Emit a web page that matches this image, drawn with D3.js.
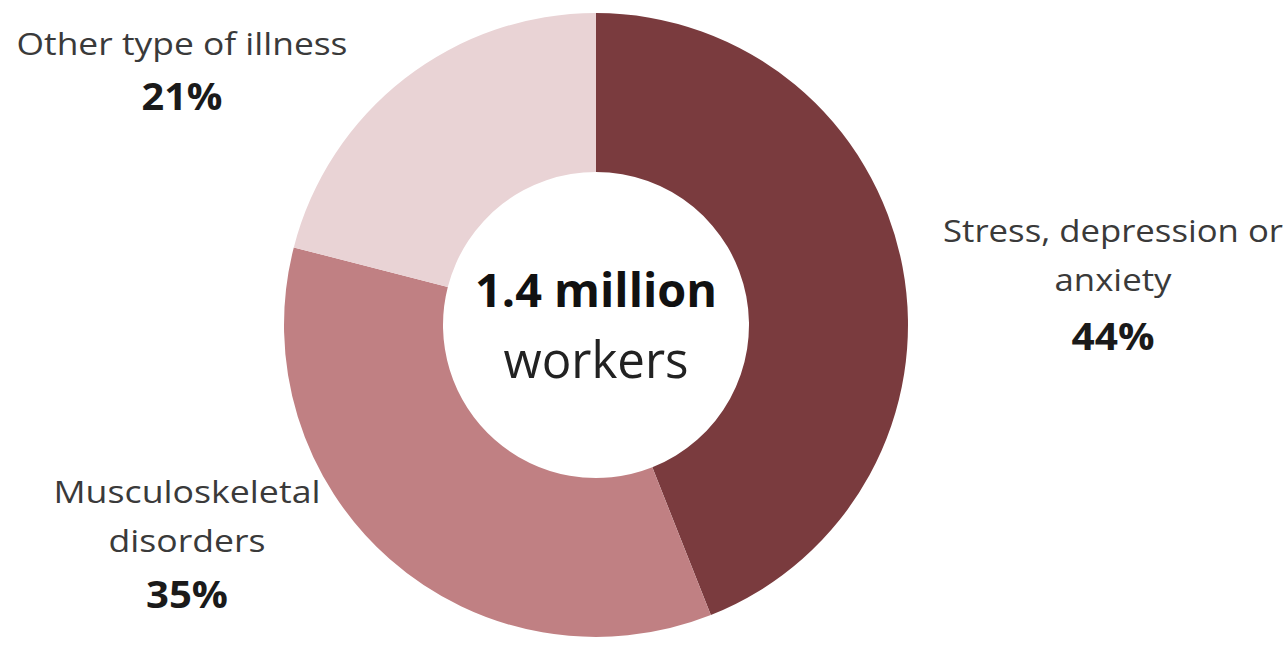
<!DOCTYPE html>
<html>
<head>
<meta charset="utf-8">
<script src="https://cdn.jsdelivr.net/npm/d3@7"></script>
<style>
  body { margin: 0; background: #fff; }
  text { font-family: "Open Sans", sans-serif; }
</style>
</head>
<body>
<div id="chart"></div>
<script>
// data
var categories = ["Stress, depression or anxiety", "Musculoskeletal disorders", "Other type of illness"];
var values = [44, 35, 21];
var colors = ["#7a3b3e", "#c08083", "#e9d3d5"];
var labelLines = [["Stress, depression or", "anxiety"], ["Musculoskeletal", "disorders"], ["Other type of illness"]];
var centreLines = ["1.4 million", "workers"];

var width = 1287, height = 649;
var cx = 596, cy = 325;
var outerR = 312, innerR = 153;

// where each label block sits (centre x, first baseline, text widths)
var labelLayout = [
    {x: 1113, y: 242, widths: [340, 117], pctY: 350, pctW: 83},
    {x: 187, y: 503, widths: [267, 157], pctY: 608, pctW: 82},
    {x: 182, y: 55, widths: [331], pctY: 110, pctW: 81}
];

var svg = d3.select("#chart").append("svg")
    .attr("width", width)
    .attr("height", height);

var pie = d3.pie().sort(null).value(function(d) { return d; });
var arc = d3.arc().outerRadius(outerR).innerRadius(innerR);

var g = svg.append("g")
    .attr("transform", "translate(" + cx + "," + cy + ")");

g.selectAll("path")
    .data(pie(values)).enter()
    .append("path")
    .attr("d", arc)
    .style("fill", function(d, i) { return colors[i]; });

// labels
categories.forEach(function(c, i) {
    var lay = labelLayout[i];
    labelLines[i].forEach(function(line, j) {
        svg.append("text")
            .attr("x", lay.x)
            .attr("y", lay.y + j * 49)
            .attr("text-anchor", "middle")
            .attr("textLength", lay.widths[j])
            .attr("lengthAdjust", "spacingAndGlyphs")
            .style("font-size", "31px")
            .style("fill", "#3a3a3a")
            .text(line);
    });
    svg.append("text")
        .attr("x", lay.x)
        .attr("y", lay.pctY)
        .attr("text-anchor", "middle")
        .attr("textLength", lay.pctW)
        .attr("lengthAdjust", "spacingAndGlyphs")
        .style("font-size", "38px")
        .style("font-weight", "bold")
        .style("fill", "#1a1a1a")
        .text(values[i] + "%");
});

// centre text
svg.append("text")
    .attr("x", cx)
    .attr("y", 307)
    .attr("text-anchor", "middle")
    .attr("textLength", 242)
    .attr("lengthAdjust", "spacingAndGlyphs")
    .style("font-size", "47px")
    .style("font-weight", "bold")
    .style("fill", "#111")
    .text(centreLines[0]);

svg.append("text")
    .attr("x", cx)
    .attr("y", 378)
    .attr("text-anchor", "middle")
    .attr("textLength", 185)
    .attr("lengthAdjust", "spacingAndGlyphs")
    .style("font-size", "52px")
    .style("fill", "#222")
    .text(centreLines[1]);
</script>
</body>
</html>
